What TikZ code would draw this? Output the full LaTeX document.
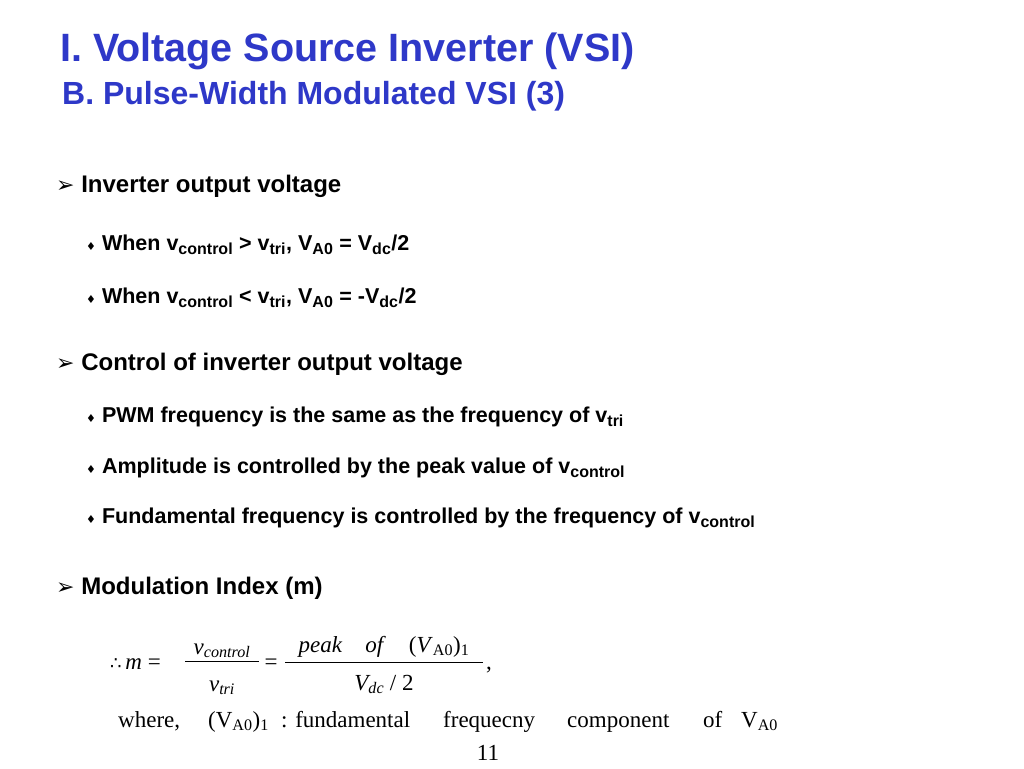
\documentclass[tikz,border=0pt]{standalone}
\usepackage{fontspec}
\setmainfont{Liberation Sans}
\newfontfamily\tms{Liberation Serif}
\newfontfamily\djvfont{DejaVu Sans}
\definecolor{tblue}{RGB}{46,56,200}
\begin{document}
\begin{tikzpicture}[x=1pt,y=-1pt,
  ttl/.style={anchor=base west,inner sep=0,font=\fontsize{39.5}{40}\bfseries,text=tblue},
  sub/.style={anchor=base west,inner sep=0,font=\fontsize{32}{34}\bfseries,text=tblue},
  lone/.style={anchor=base west,inner sep=0,font=\fontsize{24}{26}\bfseries},
  ltwo/.style={anchor=base west,inner sep=0,font=\fontsize{21.5}{23}\bfseries},
  fm/.style={inner sep=0,font=\fontsize{23}{25}\tms}]
\useasboundingbox (0,0) rectangle (1024,768);
\fill[white] (0,0) rectangle (1024,768);
\node[ttl] (t1) at (60,62) {I. Voltage Source Inverter (VSI)};
\node[sub] (t2) at (62,104) {B. Pulse-Width Modulated VSI (3)};
\newcommand\aro{{\djvfont\fontsize{22}{22}\selectfont ➢}\ }
\newcommand\dia{{\djvfont\fontsize{11}{11}\selectfont ♦}\ }
\newcommand\sbs[1]{\textsubscript{\fontsize{16}{16}\selectfont #1}}
\node[lone] (a1) at (56,192) {\aro Inverter output voltage};
\node[ltwo] (b1) at (86,250) {\dia When v\sbs{control} > v\sbs{tri}, V\sbs{A0} = V\sbs{dc}/2};
\node[ltwo] (b2) at (86,303) {\dia When v\sbs{control} < v\sbs{tri}, V\sbs{A0} = -V\sbs{dc}/2};
\node[lone] (a2) at (56,370) {\aro Control of inverter output voltage};
\node[ltwo] (b3) at (86,422) {\dia PWM frequency is the same as the frequency of v\sbs{tri}};
\node[ltwo] (b4) at (86,473) {\dia Amplitude is controlled by the peak value of v\sbs{control}};
\node[ltwo] (b5) at (86,523) {\dia Fundamental frequency is controlled by the frequency of v\sbs{control}};
\node[lone] (a3) at (56,594) {\aro Modulation Index (m)};
% formula
\node[fm,anchor=base west] (f0) at (110,669) {{\djvfont\fontsize{18}{18}\selectfont ∴}\,\textit{m} =};
\node[fm,anchor=base] (n1) at (222,654) {\textit{v\textsubscript{control}}};
\draw[line width=0.8] (185,661) -- (259,661);
\node[fm,anchor=base] (d1) at (222,691) {\textit{v\textsubscript{tri}}};
\node[fm,anchor=base] (eq) at (271,669) {=};
\node[fm,anchor=base] (n2) at (384,652) {\textit{peak}\quad\textit{of}\quad(\textit{V}\textsubscript{A0})\textsubscript{1}};
\draw[line width=0.8] (285,662) -- (483,662);
\node[fm,anchor=base] (d2) at (384,690) {\textit{V\textsubscript{dc}} / 2};
\node[fm,anchor=base west] (cm) at (486,669) {,};
\node[fm,anchor=base west] (w1) at (118,727) {where,};
\node[fm,anchor=base west] (w2) at (208,727) {(V\textsubscript{A0})\textsubscript{1}};
\node[fm,anchor=base west] (w3) at (281,727) {: fundamental};
\node[fm,anchor=base west] (w4) at (443,727) {frequecny};
\node[fm,anchor=base west] (w5) at (567,727) {component};
\node[fm,anchor=base west] (w6) at (703,727) {of};
\node[fm,anchor=base west] (w7) at (741,727) {V\textsubscript{A0}};
\node[fm,anchor=base] (pg) at (488,760) {11};
\end{tikzpicture}
\end{document}
